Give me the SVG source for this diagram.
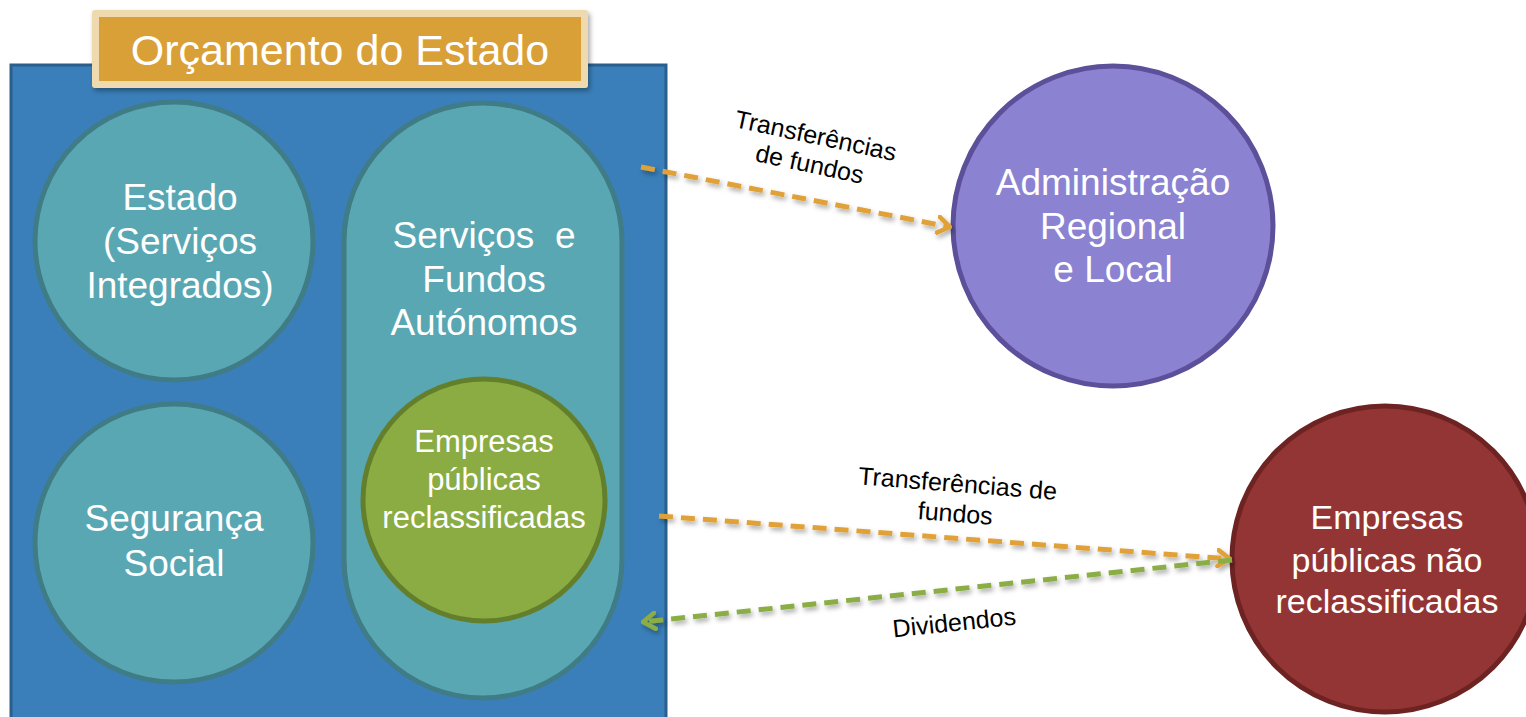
<svg xmlns="http://www.w3.org/2000/svg" width="1526" height="717" viewBox="0 0 1526 717">
<defs>
<style>
.t{font-family:"Liberation Sans",Arial,sans-serif;fill:#fff;text-anchor:middle}
.l{font-family:"Liberation Sans",Arial,sans-serif;fill:#000;text-anchor:middle;font-size:25px}
.teal{fill:#59a7b3;stroke:#3f7c86;stroke-width:5}
.dash{fill:none;stroke-width:5;stroke-dasharray:14 8}
</style>
<filter id="sh" x="-10%" y="-10%" width="130%" height="130%"><feDropShadow dx="2" dy="3" stdDeviation="2.5" flood-color="#000" flood-opacity="0.35"/></filter>
<marker id="ao" viewBox="0 0 16 20" refX="14" refY="10" markerWidth="16" markerHeight="20" markerUnits="userSpaceOnUse" orient="auto"><path d="M2,2 L14,10 L2,18" fill="none" stroke="#e0a239" stroke-width="4.5" stroke-linecap="round" stroke-linejoin="round"/></marker>
<marker id="ag" viewBox="0 0 16 20" refX="14" refY="10" markerWidth="16" markerHeight="20" markerUnits="userSpaceOnUse" orient="auto"><path d="M2,2 L14,10 L2,18" fill="none" stroke="#8bad44" stroke-width="4.5" stroke-linecap="round" stroke-linejoin="round"/></marker>
</defs>
<rect width="1526" height="717" fill="#fff"/>
<g id="orcamento">
<rect x="11" y="65" width="655" height="670" fill="#3a7fba" stroke="#2a5f8c" stroke-width="3"/>
<g id="titulo">
<rect x="92" y="10" width="496" height="78" rx="3" fill="#efdab0" filter="url(#sh)"/>
<rect x="99" y="17" width="482" height="64" fill="#d9a037"/>
<text class="t" x="340" y="65" font-size="43">Orçamento do Estado</text>
</g>
<g id="estado">
<circle class="teal" cx="174" cy="241" r="139"/>
<text class="t" font-size="37"><tspan x="180" y="210">Estado</tspan><tspan x="180" y="254">(Serviços</tspan><tspan x="180" y="298">Integrados)</tspan></text>
</g>
<g id="seguranca">
<circle class="teal" cx="174" cy="543" r="139"/>
<text class="t" font-size="37"><tspan x="174" y="531">Segurança</tspan><tspan x="174" y="576">Social</tspan></text>
</g>
<g id="servicos">
<rect class="teal" x="344" y="103" width="278" height="595" rx="139"/>
<text class="t" font-size="37" xml:space="preserve"><tspan x="484" y="248">Serviços  e</tspan><tspan x="484" y="292">Fundos</tspan><tspan x="484" y="335">Autónomos</tspan></text>
</g>
<g id="empresas-reclass">
<circle cx="484" cy="500" r="121" fill="#8bab43" stroke="#647f2c" stroke-width="5"/>
<text class="t" font-size="31"><tspan x="484" y="452">Empresas</tspan><tspan x="484" y="490">públicas</tspan><tspan x="484" y="528">reclassificadas</tspan></text>
</g>
</g>
<g id="admin">
<circle cx="1113" cy="226" r="160" fill="#8b82d2" stroke="#5d509a" stroke-width="5"/>
<text class="t" font-size="37"><tspan x="1113" y="195">Administração</tspan><tspan x="1113" y="239">Regional</tspan><tspan x="1113" y="282">e Local</tspan></text>
</g>
<g id="empresas-nao">
<circle cx="1385" cy="559" r="153" fill="#943535" stroke="#6e2323" stroke-width="5"/>
<text class="t" font-size="34"><tspan x="1387" y="529">Empresas</tspan><tspan x="1387" y="572">públicas não</tspan><tspan x="1387" y="613">reclassificadas</tspan></text>
</g>
<g id="connectors" filter="url(#sh)">
<path class="dash" d="M641,167 L950,227" stroke="#e0a239" marker-end="url(#ao)"/>
<path class="dash" d="M659,516 L1230,559" stroke="#e0a239" marker-end="url(#ao)"/>
<path class="dash" d="M1232,560 L643,622" stroke="#8bad44" marker-end="url(#ag)"/>
</g>
<g id="labels">
<text class="l" transform="rotate(12 814 144)"><tspan x="814" y="144">Transferências</tspan><tspan x="814" y="173">de fundos</tspan></text>
<text class="l" transform="rotate(4.5 957 492)"><tspan x="957" y="492">Transferências de</tspan><tspan x="957" y="522">fundos</tspan></text>
<text class="l" transform="rotate(-6 955 630)" x="955" y="631">Dividendos</text>
</g>
</svg>
